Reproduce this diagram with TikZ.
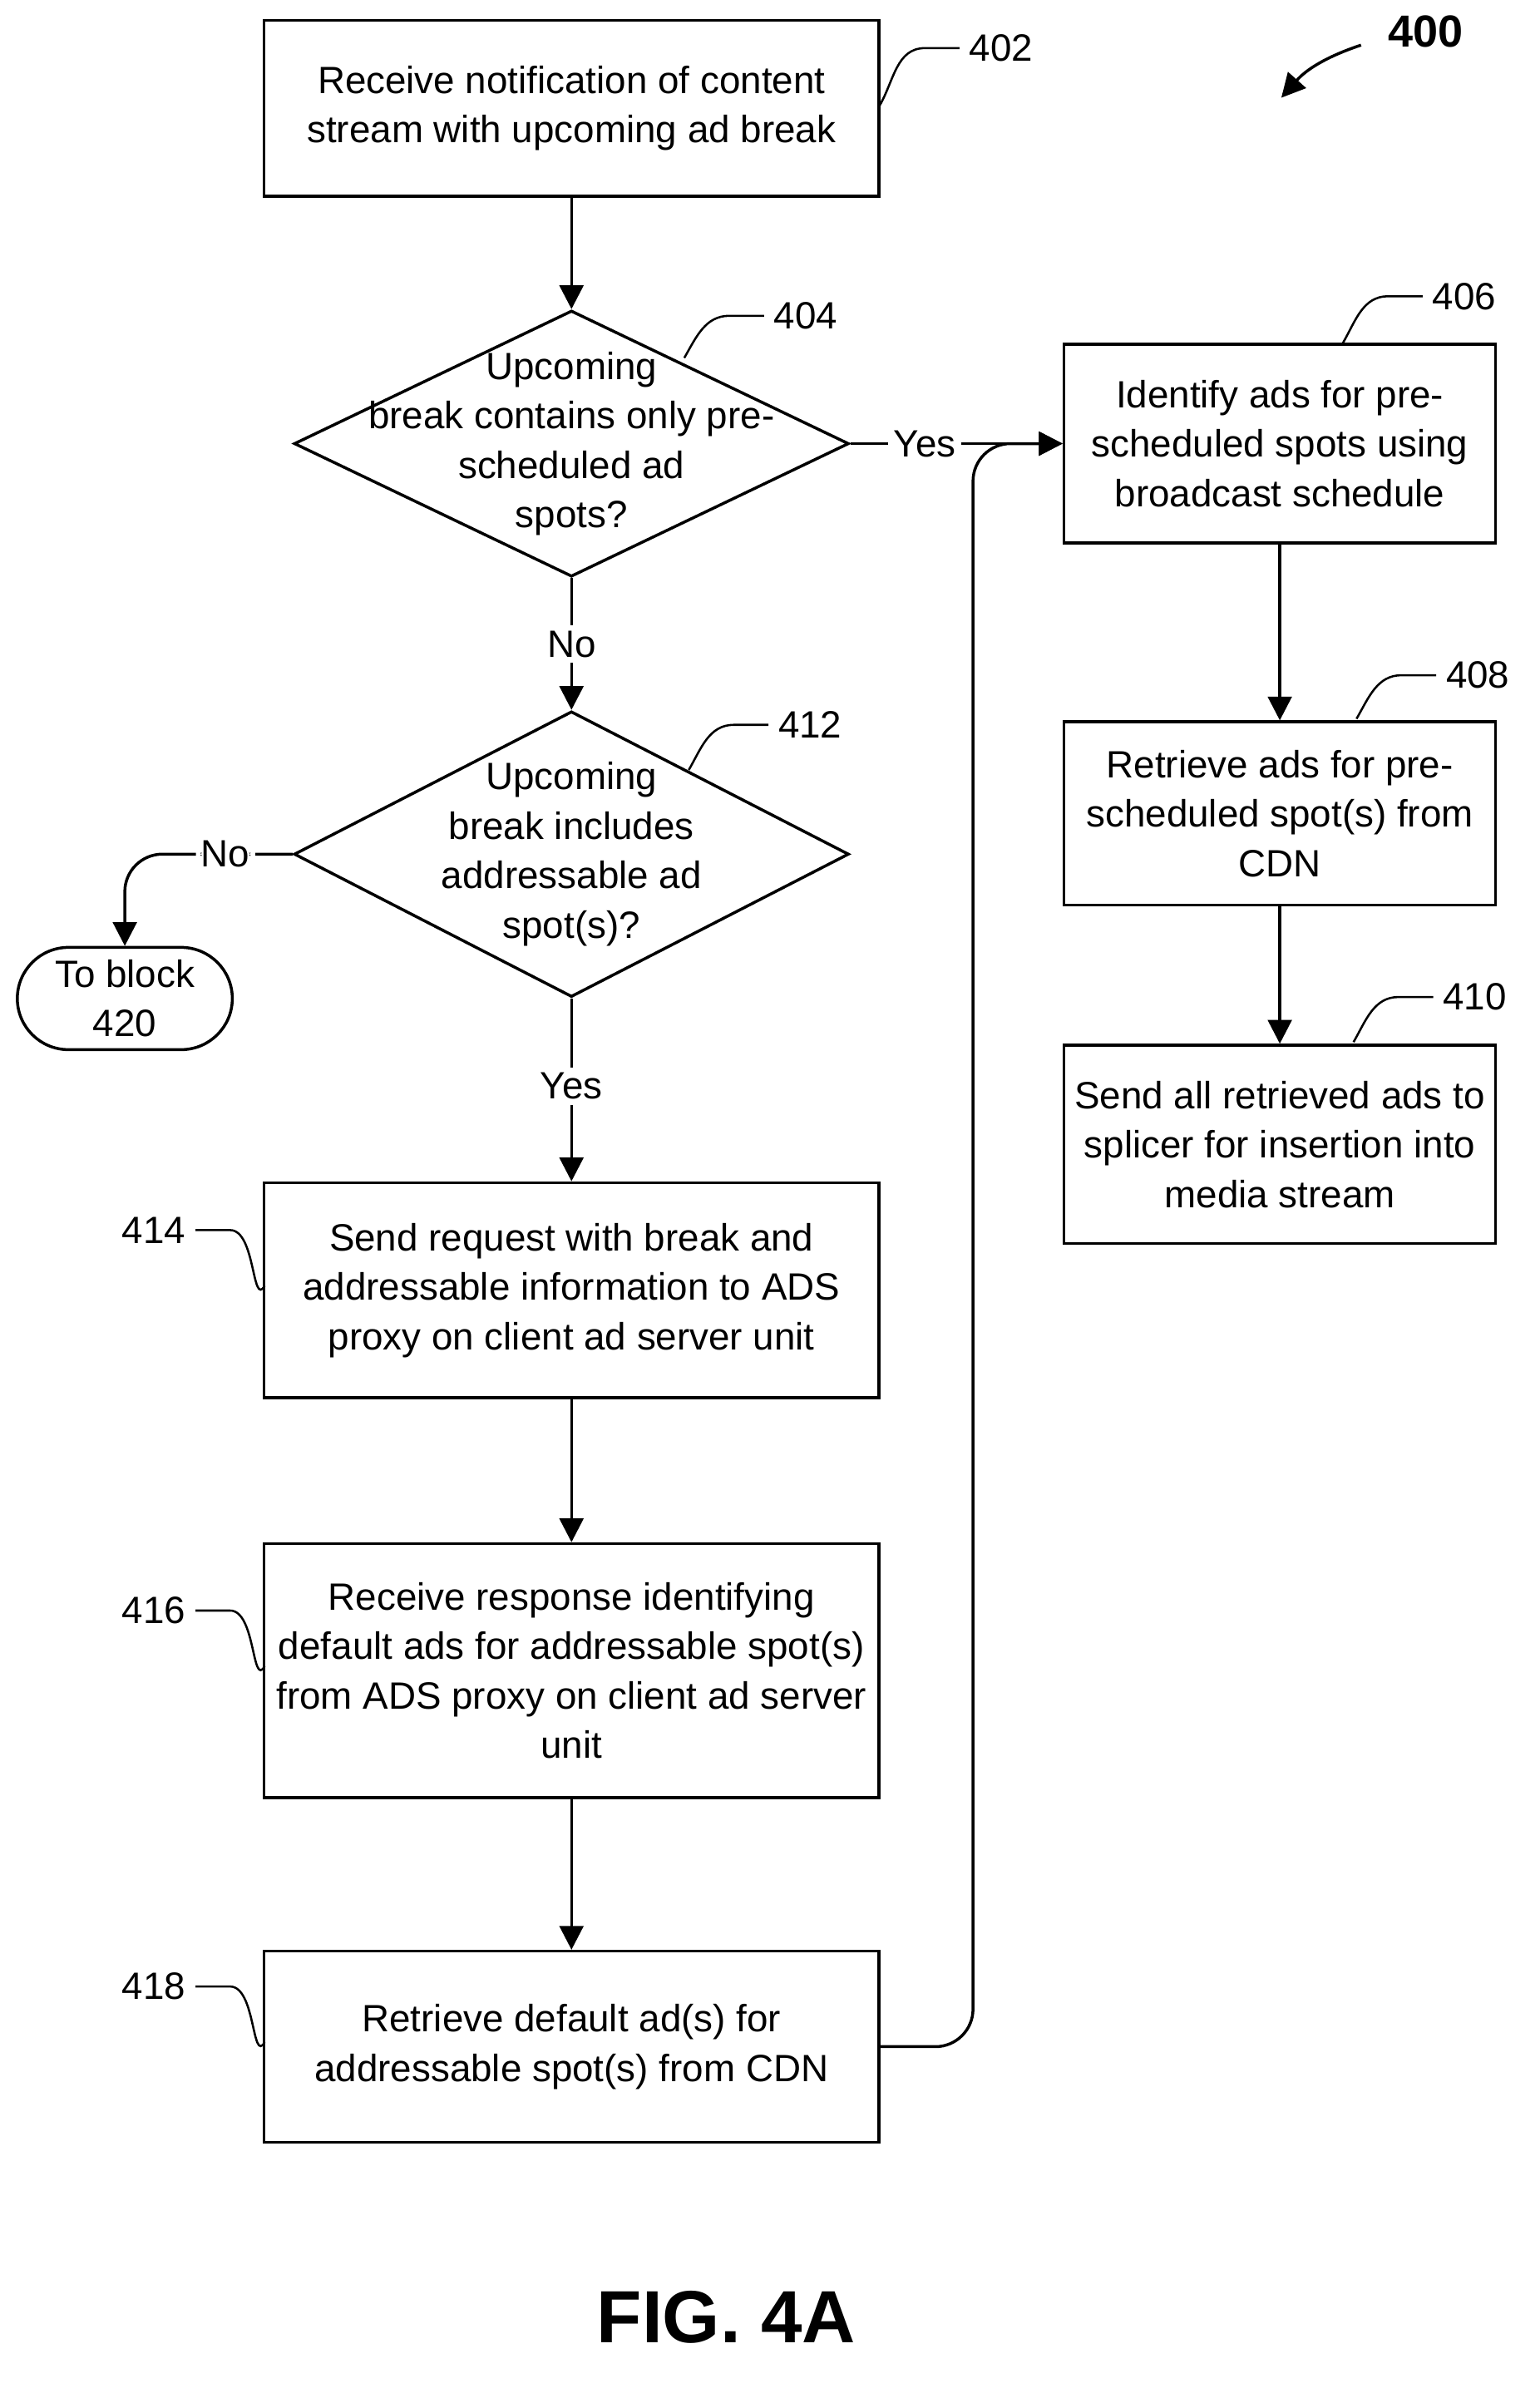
\documentclass[tikz,border=0pt]{standalone}
\usepackage{fontspec}
\setmainfont{Liberation Sans}
\usetikzlibrary{shapes.geometric,arrows.meta,positioning}
\tikzstyle{box}=[draw,line width=1.1pt,minimum width=8.18cm,align=center,inner sep=2pt]
\tikzstyle{rbox}=[draw,line width=1.1pt,minimum width=5.74cm,align=center,inner sep=2pt]
\tikzstyle{dec}=[draw,diamond,line width=1.1pt,minimum width=7.38cm,inner sep=0pt]
\tikzstyle{flow}=[line width=1.1pt,-{Triangle[length=9pt,width=9pt]}]
\tikzstyle{lead}=[line width=0.8pt]
\newcommand{\txt}{\fontsize{14.4}{18.7}\selectfont}
\begin{document}
\begin{tikzpicture}[x=0.02cm,y=-0.02cm,font=\txt]
\useasboundingbox (0,0) rectangle (1024,1588);
% left column
\node[box,minimum height=2.34cm] (b402) at (380,72) {Receive notification of content\\stream with upcoming ad break};
\node[dec,minimum height=3.54cm] (d404) at (380,295) {};
\node[align=center] (t404) at (380,295) {Upcoming\\break contains only pre-\\scheduled ad\\spots?};
\node[dec,minimum height=3.8cm] (d412) at (380,568) {};
\node[align=center] (t412) at (380,568) {Upcoming\\break includes\\addressable ad\\spot(s)?};
\node[box,minimum height=2.86cm] (b414) at (380,858) {Send request with break and\\addressable information to ADS\\proxy on client ad server unit};
\node[box,minimum height=3.38cm] (b416) at (380,1111) {Receive response identifying\\default ads for addressable spot(s)\\from ADS proxy on client ad server\\unit};
\node[box,minimum height=2.54cm] (b418) at (380,1361) {Retrieve default ad(s) for\\addressable spot(s) from CDN};
\node[draw,line width=1.1pt,rounded corners=0.68cm,minimum width=2.86cm,minimum height=1.36cm,align=center,inner sep=1pt] (t420) at (83,664) {To block\\420};
% right column
\node[rbox,minimum height=2.64cm] (b406) at (851,295) {Identify ads for pre-\\scheduled spots using\\broadcast schedule};
\node[rbox,minimum height=2.44cm] (b408) at (851,541) {Retrieve ads for pre-\\scheduled spot(s) from\\CDN};
\node[rbox,minimum height=2.64cm] (b410) at (851,761) {Send all retrieved ads to\\splicer for insertion into\\media stream};
% connectors
\draw[flow] (b402) -- (d404);
\draw[flow] (d404) -- node[fill=white,inner sep=2pt]{No} (d412);
\draw[flow] (d412) -- node[fill=white,inner sep=2pt,pos=0.48]{Yes} (b414);
\draw[flow] (b414) -- (b416);
\draw[flow] (b416) -- (b418);
\draw[flow] (b406) -- (b408);
\draw[flow] (b408) -- (b410);
\draw[flow] (d404.east) -- node[fill=white,inner sep=2pt,pos=0.35]{Yes} (b406.west);
\draw[flow,rounded corners=0.5cm] (b418.east) -- (647,1361) -- (647,295) -- (b406.west);
\draw[flow,rounded corners=0.5cm] (d412.west) -- node[fill=white,inner sep=2pt,pos=0.4]{No} (83,568) -- (t420.north);
% reference numbers
\draw[lead] (585,70) to[out=60,in=180] (615,32) -- (638,32) node[right]{402};
\draw[lead] (455,238) to[out=60,in=180] (485,210) -- (508,210) node[right]{404};
\draw[lead] (893,228) to[out=60,in=180] (923,197) -- (946,197) node[right]{406};
\draw[lead] (902,478) to[out=60,in=180] (932,449) -- (955,449) node[right]{408};
\draw[lead] (900,693) to[out=60,in=180] (930,663) -- (953,663) node[right]{410};
\draw[lead] (458,512) to[out=60,in=180] (488,482) -- (511,482) node[right]{412};
\draw[lead] (176,855) to[out=240,in=0] (153,818) -- (130,818) node[left]{414};
\draw[lead] (176,1108) to[out=240,in=0] (153,1071) -- (130,1071) node[left]{416};
\draw[lead] (176,1358) to[out=240,in=0] (153,1321) -- (130,1321) node[left]{418};
\node[font=\fontsize{17}{20}\selectfont\bfseries] (n400) at (948,21) {400};
\draw[flow] (905,30) to[bend right=15] (852,65);
\node[font=\fontsize{28}{32}\selectfont\bfseries] (fig) at (483,1541) {FIG. 4A};
\end{tikzpicture}
\end{document}
